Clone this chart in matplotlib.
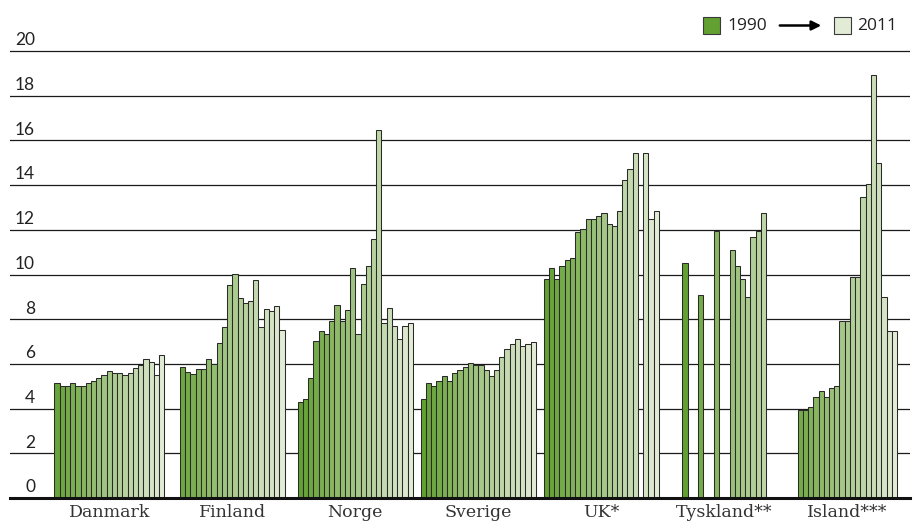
import numpy as np
import matplotlib
matplotlib.use("Agg")
import matplotlib.pyplot as plt
from matplotlib.patches import Rectangle
from matplotlib.colors import to_rgb
import matplotlib.transforms as mtransforms

# ---------------- data ----------------
countries = ["Danmark", "Finland", "Norge", "Sverige", "UK*", "Tyskland**", "Island***"]
first_years = [1991, 1992, 1990, 1990, 1990, 1990, 1993]
nan = float("nan")
danmark = [5.15, 5.0, 5.0, 5.15, 5.0, 5.0, 5.15, 5.25, 5.35, 5.5, 5.7, 5.6, 5.6, 5.5,
           5.6, 5.8, 5.95, 6.2, 6.1, 5.5, 6.4]
finland = [5.88, 5.64, 5.53, 5.76, 5.76, 6.24, 6.0, 6.93, 7.65, 9.53, 10.02, 8.95, 8.71,
           8.83, 9.77, 7.65, 8.47, 8.35, 8.59, 7.53]
norge = [4.31, 4.42, 5.37, 7.01, 7.48, 7.36, 7.94, 8.64, 7.94, 8.40, 10.27, 7.36, 9.58,
         10.40, 11.57, 16.48, 7.82, 8.52, 7.70, 7.12, 7.70, 7.82]
sverige = [4.42, 5.13, 5.01, 5.24, 5.48, 5.24, 5.60, 5.72, 5.84, 6.06, 5.96, 5.96, 5.72,
           5.48, 5.72, 6.30, 6.66, 6.88, 7.10, 6.78, 6.88, 7.00]
uk = [9.81, 10.28, 9.81, 10.40, 10.63, 10.75, 11.91, 12.03, 12.49, 12.49, 12.61, 12.73,
      12.27, 12.15, 12.85, 14.25, 14.72, 15.42, nan, 15.42, 12.49, 12.85]
tyskland = [10.51, nan, nan, 9.10, nan, nan, 11.93, nan, nan, 11.09, 10.39, 9.81, 8.99,
            11.67, 11.93, 12.75]
island = [3.94, 3.94, 4.06, 4.54, 4.78, 4.54, 4.90, 5.01, 7.94, 7.94, 9.91, 9.91, 13.45,
          14.03, 18.94, 14.97, 9.0, 7.46, 7.46]
series = [danmark, finland, norge, sverige, uk, tyskland, island]
yticks = [0, 2, 4, 6, 8, 10, 12, 14, 16, 18, 20]
legend_labels = ["1990", "2011"]

# ---------------- style ----------------
c_start = np.array(to_rgb("#62a031"))
c_end = np.array(to_rgb("#e2ebd6"))
def year_color(y):
    t = (y - 1990) / 21.0
    return tuple(c_start + (c_end - c_start) * t)

W, H = 916, 531
fig = plt.figure(figsize=(W / 100, H / 100), dpi=100)

px_per_unit = 22.35
ymax = 20.3
ax_left_px, ax_right_px, ax_bottom_px = 10, 910, 498
ax = fig.add_axes([ax_left_px / W, (H - ax_bottom_px) / H,
                   (ax_right_px - ax_left_px) / W, px_per_unit * ymax / H])

spacing_px = 123.0
first_center_px = 109.3
bar_w = 5.23 / spacing_px
xmin = -(first_center_px - ax_left_px) / spacing_px
xmax = (ax_right_px - first_center_px) / spacing_px
ax.set_xlim(xmin, xmax)
ax.set_ylim(0, ymax)

# grid lines
for v in yticks[1:]:
    ax.axhline(v, color="#1a1a1a", lw=0.9, zorder=0)
ax.axhline(0, color="#111111", lw=2.2, zorder=5, clip_on=False)

# bars
for ci, (vals, y0) in enumerate(zip(series, first_years)):
    n = len(vals)
    for k, v in enumerate(vals):
        if np.isnan(v):
            continue
        x = ci + (k - (n - 1) / 2.0) * bar_w
        ax.bar(x, v, width=bar_w, color=year_color(y0 + k),
               edgecolor="#2a2a2a", linewidth=0.75, zorder=2)

# y labels above grid lines
trans = mtransforms.blended_transform_factory(ax.transAxes, ax.transData)
for v in yticks:
    ax.text((35 - ax_left_px) / (ax_right_px - ax_left_px), v + 0.12, str(v),
            transform=trans, ha="right", va="bottom", fontsize=12.5,
            family=["Lato", "DejaVu Sans"], color="#222222")

# category labels
ax.set_xticks(range(len(countries)))
ax.set_xticklabels(countries, family="DejaVu Serif", fontsize=12.5, color="#333333")
ax.tick_params(axis="x", length=0, pad=4)
ax.set_yticks([])
for s in ax.spines.values():
    s.set_visible(False)

# legend
sq = 17
def fx(p):
    return p / W
def fy(p):
    return 1 - p / H
fig.add_artist(Rectangle((fx(703), fy(33.5)), sq / W, sq / H, transform=fig.transFigure,
                         facecolor=year_color(1990), edgecolor="#3a3a3a", lw=0.8))
fig.add_artist(Rectangle((fx(834), fy(33.5)), sq / W, sq / H, transform=fig.transFigure,
                         facecolor=year_color(2011), edgecolor="#3a3a3a", lw=0.8))
fig.text(fx(727), fy(26), legend_labels[0], ha="left", va="center", fontsize=12.5,
         family=["Open Sans", "DejaVu Sans"], color="#222222")
fig.text(fx(857), fy(26), legend_labels[1], ha="left", va="center", fontsize=12.5,
         family=["Open Sans", "DejaVu Sans"], color="#222222")
fig.add_artist(matplotlib.patches.FancyArrowPatch(
    (fx(777), fy(25.5)), (fx(824), fy(25.5)), transform=fig.transFigure,
    arrowstyle="-|>", mutation_scale=14, lw=1.8, color="black"))

fig.savefig("out.png", dpi=100)
